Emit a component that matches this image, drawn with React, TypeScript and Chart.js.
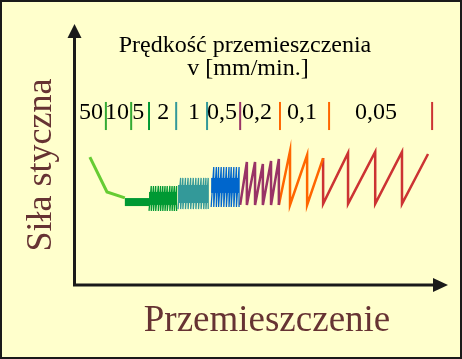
import React, { useEffect, useRef } from "react";
import { Chart, registerables } from "chart.js";

Chart.register(...registerables);

// ---- data (x: displacement 0..100, y: tangential force 0..100) ----
const speedLabels = ["50", "10", "5", "2", "1", "0,5", "0,2", "0,1", "0,05"];
const speedLabelX = [4.3, 11.3, 17.0, 23.7, 32.0, 39.5, 48.9, 61.0, 80.9];
const speedLabelY = 63.8;
const dividerX = [8.3, 15.1, 19.9, 27.2, 35.5, 44.4, 55.1, 68.3, 96.0];
const dividerLow = 59.6;
const dividerHigh = 70.4;

// v = 50: initial approach
const approachX = [4.0, 8.6, 13.4];
const approachY = [49.2, 35.8, 33.5];

// v = 10: very dense stick-slip (solid band)
const flatX = [13.4, 19.9];
const flatY = [31.9, 31.9];

// dense stick-slip segments
const greenStart = 19.9;
const greenPeaks = [20.5, 21.1, 21.7, 22.4, 23.0, 23.6, 24.2, 24.8, 25.5, 26.1, 26.7, 27.3];
const greenHigh = [38.1, 38.1, 38.1, 38.1, 38.1, 38.1, 38.1, 38.1, 38.1, 38.1, 38.1, 38.1];
const greenLow = 28.5;
const greenMean = 33.3;

const tealStart = 27.7;
const tealPeaks = [28.4, 29.0, 29.7, 30.4, 31.1, 31.8, 32.5, 33.2, 33.9, 34.6, 35.2, 35.8];
const tealHigh = [41.2, 41.2, 41.2, 41.2, 41.2, 41.2, 41.2, 41.2, 41.2, 41.2, 41.2, 41.2];
const tealLow = 29.2;
const tealMean = 35.0;

const blueStart = 36.6;
const bluePeaks = [37.3, 38.0, 38.6, 39.3, 40.0, 40.7, 41.4, 42.0, 42.7, 43.4, 44.1];
const blueHigh = [45.4, 45.4, 45.4, 45.4, 45.4, 45.4, 45.4, 45.4, 45.4, 45.4, 45.4];
const blueLow = 30.0;
const blueMean = 38.3;

// slower speeds: resolved saw-tooth
const purpleStart = 44.4;
const purplePeaks = [46.2, 48.4, 50.5, 52.7, 54.8];
const purpleHigh = [47.3, 47.3, 46.5, 47.7, 48.5];
const purpleLow = 30.8;

const orangeStart = 54.8;
const orangePeaks = [57.8, 62.4, 66.7];
const orangeHigh = [51.5, 50.0, 48.8];
const orangeLow = 30.8;

const redStartY = 48.8;
const redPeaks = [66.7, 73.4, 80.7, 87.9, 94.9];
const redHigh = [48.8, 50.8, 51.2, 51.2, 50.4];
const redLow = 31.2;

// ---- styles ----
const dividerColors = ["#33AA33", "#33AA33", "#009933", "#339999", "#339999", "#993366", "#FF6600", "#FF6600", "#CC3333"];
const BG = "#FFFFCC";
const INK = "#1a1a1a";
const LABEL = "#663333";
const SERIF = "'Liberation Serif', 'Times New Roman', serif";

type P = { x: number; y: number };

function sawtooth(startX: number, startY: number, low: number, peaksX: number[], peaksY: number[], dropLast: boolean): P[] {
  const pts: P[] = [{ x: startX, y: startY }];
  if (startY !== low) pts.push({ x: startX, y: low });
  peaksX.forEach((px, i) => {
    pts.push({ x: px, y: peaksY[i] });
    if (i < peaksX.length - 1 || dropLast) pts.push({ x: px, y: low });
  });
  return pts;
}

function line(data: P[], color: string, width: number) {
  return {
    type: "line" as const,
    data,
    borderColor: color,
    backgroundColor: color,
    borderWidth: width,
    pointRadius: 0,
    tension: 0,
    fill: false,
    borderCapStyle: "butt" as const,
    borderJoinStyle: "miter" as const,
  };
}

const decorPlugin = {
  id: "decor",
  beforeDraw(chart: any) {
    const { ctx, width, height } = chart;
    ctx.save();
    ctx.fillStyle = BG;
    ctx.fillRect(0, 0, width, height);
    ctx.restore();
  },
  afterDraw(chart: any) {
    const { ctx, chartArea, width, height } = chart;
    const xs = chart.scales.x;
    const ys = chart.scales.y;
    ctx.save();
    // frame
    ctx.strokeStyle = INK;
    ctx.lineWidth = 2;
    ctx.strokeRect(1, 1, width - 2, height - 2);

    // axes
    const ax = chartArea.left - 0.5;
    const ay = chartArea.bottom;
    ctx.lineWidth = 3;
    ctx.beginPath();
    ctx.moveTo(ax, chartArea.top + 10);
    ctx.lineTo(ax, ay);
    ctx.lineTo(chartArea.right - 10, ay);
    ctx.stroke();
    ctx.fillStyle = INK;
    ctx.beginPath();
    ctx.moveTo(ax, chartArea.top - 1);
    ctx.lineTo(ax - 7, chartArea.top + 13);
    ctx.lineTo(ax + 7, chartArea.top + 13);
    ctx.closePath();
    ctx.fill();
    ctx.beginPath();
    ctx.moveTo(chartArea.right + 1, ay);
    ctx.lineTo(chartArea.right - 14, ay - 7);
    ctx.lineTo(chartArea.right - 14, ay + 7);
    ctx.closePath();
    ctx.fill();

    // title
    ctx.fillStyle = "#000";
    ctx.textAlign = "center";
    ctx.textBaseline = "alphabetic";
    ctx.font = `24px ${SERIF}`;
    ctx.fillText("Prędkość przemieszczenia", 245, 52);
    ctx.fillText("v [mm/min.]", 248, 75);

    // speed labels
    speedLabels.forEach((t, i) => {
      ctx.fillText(t, xs.getPixelForValue(speedLabelX[i]), ys.getPixelForValue(speedLabelY));
    });

    // axis titles
    ctx.fillStyle = LABEL;
    ctx.font = `37px ${SERIF}`;
    ctx.fillText("Przemieszczenie", 267, 331);
    ctx.save();
    ctx.translate(51, 165);
    ctx.rotate(-Math.PI / 2);
    ctx.font = `36px ${SERIF}`;
    ctx.fillText("Siła styczna", 0, 0);
    ctx.restore();

    ctx.restore();
  },
};

export default function App() {
  const ref = useRef<HTMLCanvasElement | null>(null);
  useEffect(() => {
    if (!ref.current) return;
    const datasets: any[] = [];
    dividerX.forEach((x, i) => {
      datasets.push(line([{ x, y: dividerLow }, { x, y: dividerHigh }], dividerColors[i], 2));
    });
    datasets.push(line(approachX.map((x, i) => ({ x, y: approachY[i] })), "#66CC33", 3));
    datasets.push(line(flatX.map((x, i) => ({ x, y: flatY[i] })), "#009933", 8));
    datasets.push(line([{ x: greenStart, y: greenMean }, { x: greenPeaks[greenPeaks.length - 1], y: greenMean }], "#009933", 13));
    datasets.push(line(sawtooth(greenStart, greenLow, greenLow, greenPeaks, greenHigh, true), "#009933", 1.3));
    datasets.push(line([{ x: tealStart, y: tealMean }, { x: tealPeaks[tealPeaks.length - 1], y: tealMean }], "#339999", 18));
    datasets.push(line(sawtooth(tealStart, tealLow, tealLow, tealPeaks, tealHigh, true), "#339999", 1.3));
    datasets.push(line([{ x: blueStart, y: blueMean }, { x: bluePeaks[bluePeaks.length - 1], y: blueMean }], "#0066CC", 15));
    datasets.push(line(sawtooth(blueStart, blueLow, blueLow, bluePeaks, blueHigh, true), "#0066CC", 1.3));
    datasets.push(line(sawtooth(purpleStart, purpleLow, purpleLow, purplePeaks, purpleHigh, true), "#993366", 2.5));
    datasets.push(line(sawtooth(orangeStart, orangeLow, orangeLow, orangePeaks, orangeHigh, false), "#FF6600", 2.5));
    datasets.push(line(sawtooth(redPeaks[0], redStartY, redLow, redPeaks.slice(1), redHigh.slice(1), false), "#CC3333", 2.5));

    const chart = new Chart(ref.current, {
      type: "line",
      data: { datasets },
      options: {
        animation: false,
        responsive: false,
        maintainAspectRatio: false,
        devicePixelRatio: 1,
        parsing: false as any,
        normalized: true,
        layout: { padding: { left: 75, right: 15, top: 25, bottom: 74 } },
        plugins: { legend: { display: false }, tooltip: { enabled: false }, title: { display: false } },
        scales: {
          x: { type: "linear", display: false, min: 0, max: 100 },
          y: { type: "linear", display: false, min: 0, max: 100 },
        },
        elements: { point: { radius: 0 } },
      },
      plugins: [decorPlugin],
    });
    return () => chart.destroy();
  }, []);
  return (
    <div style={{ position: "absolute", left: 0, top: 0, width: 462, height: 359 }}>
      <canvas ref={ref} width={462} height={359} style={{ display: "block", width: 462, height: 359 }} />
    </div>
  );
}
